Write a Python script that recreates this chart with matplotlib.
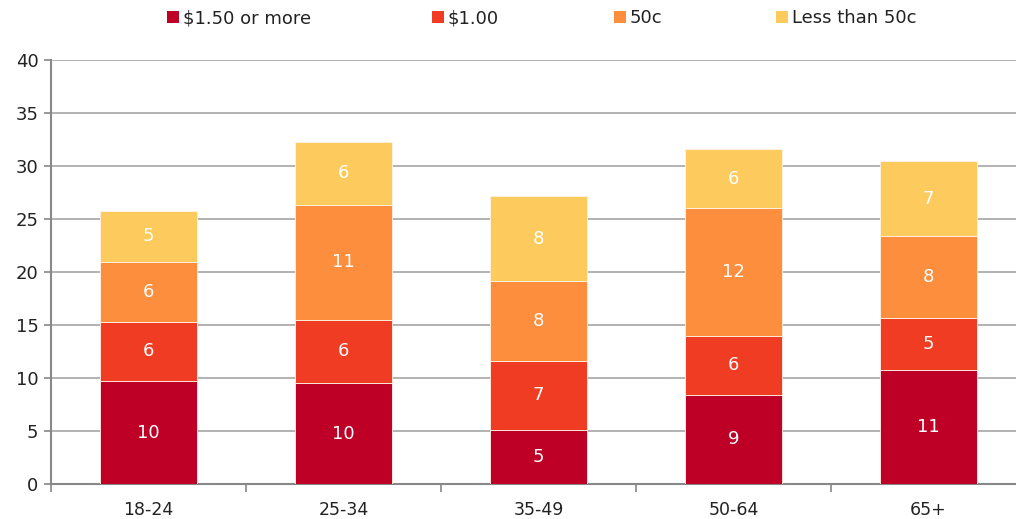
import matplotlib
matplotlib.use("Agg")
import matplotlib.pyplot as plt
from matplotlib.patches import Patch
import numpy as np

categories = ["18-24", "25-34", "35-49", "50-64", "65+"]
series_names = ["$1.50 or more", "$1.00", "50c", "Less than 50c"]
s150 = [9.7, 9.5, 5.1, 8.4, 10.75]
s100 = [5.6, 6.0, 6.5, 5.6, 4.9]
s50 = [5.6, 10.8, 7.55, 12.0, 7.7]
sless = [4.9, 6.0, 8.0, 5.6, 7.1]
labels150 = ["10", "10", "5", "9", "11"]
labels100 = ["6", "6", "7", "6", "5"]
labels50 = ["6", "11", "8", "12", "8"]
labelsless = ["5", "6", "8", "6", "7"]
yticks = [0, 5, 10, 15, 20, 25, 30, 35, 40]

colors = ["#BE0027", "#F03C23", "#FC8E3E", "#FDCA5E"]
series = [s150, s100, s50, sless]
series_labels = [labels150, labels100, labels50, labelsless]

plt.rcParams['font.family'] = ['DejaVu Sans']
fig = plt.figure(figsize=(10.16, 5.19), dpi=100)
W, H = 1016, 519
ax = fig.add_axes([51 / W, (H - 484) / H, 975 / W, 424 / H])

x = np.arange(len(categories))
bottom = np.zeros(len(categories))
for vals, col, labs in zip(series, colors, series_labels):
    vals = np.array(vals)
    ax.bar(x, vals, width=0.5, bottom=bottom, color=col, edgecolor="#FFF4E8",
           linewidth=0.6, zorder=3)
    for xi, b, v, lab in zip(x, bottom, vals, labs):
        ax.text(xi, b + v / 2, lab, ha="center", va="center", color="white",
                fontsize=13, zorder=4)
    bottom += vals

ax.set_xlim(-0.5, len(categories) - 0.5)
ax.set_ylim(0, 40)
ax.set_yticks(yticks)
ax.set_yticklabels([str(t) for t in yticks], fontsize=13, color="#222222")
ax.yaxis.grid(True, color="#A6A6A6", linewidth=1.2, zorder=0)
ax.set_axisbelow(True)

ax.set_xticks(x)
ax.set_xticklabels(categories, fontsize=12.5, color="#222222")
ax.tick_params(axis="x", which="major", length=0, pad=12)
ax.set_xticks(np.arange(-0.5, len(categories), 1), minor=True)
ax.tick_params(axis="x", which="minor", length=6, color="#888888", width=1.2)
ax.tick_params(axis="y", length=5, color="#888888", width=1.2, pad=4)

for s in ["top", "right"]:
    ax.spines[s].set_visible(False)
for s in ["left", "bottom"]:
    ax.spines[s].set_color("#888888")
    ax.spines[s].set_linewidth(1.5)

square_x = [167, 432, 614, 776]
for name, col, sx in zip(series_names, colors, square_x):
    lg = fig.legend([Patch(facecolor=col, edgecolor="none")], [name],
                    loc="center left", bbox_to_anchor=(sx / W, 1 - 18 / H),
                    frameon=False, fontsize=13, handlelength=0.66, handleheight=0.66,
                    handletextpad=0.2, borderpad=0, borderaxespad=0)
    for t in lg.get_texts():
        t.set_color("#222222")

fig.savefig("out.png", dpi=100)
